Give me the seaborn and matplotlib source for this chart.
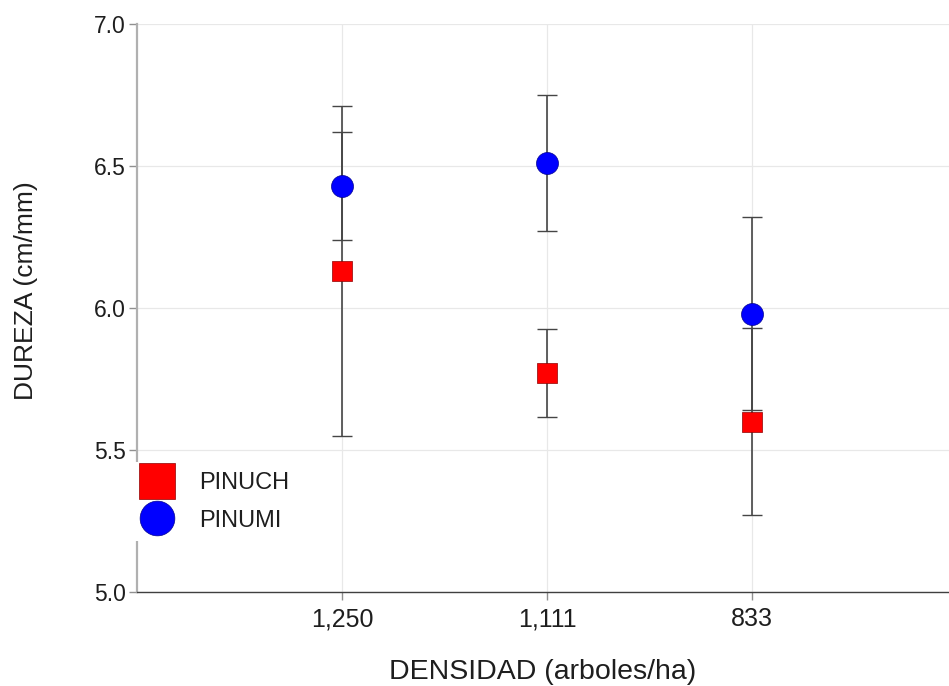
import matplotlib
matplotlib.use("Agg")
import matplotlib.pyplot as plt
from matplotlib.lines import Line2D
import seaborn as sns
import pandas as pd

densidad = ["1,250", "1,111", "833"]
pinuch_mean = [6.13, 5.77, 5.60]
pinuch_err = [0.58, 0.155, 0.33]
pinumi_mean = [6.43, 6.51, 5.98]
pinumi_err = [0.19, 0.24, 0.34]
series = ["PINUCH", "PINUMI"]
y_ticks = [5.0, 5.5, 6.0, 6.5, 7.0]

df = pd.DataFrame({
    "densidad": densidad * 2,
    "dureza": pinuch_mean + pinumi_mean,
    "err": pinuch_err + pinumi_err,
    "serie": [series[0]] * 3 + [series[1]] * 3,
})

sns.set_theme(style="white")
plt.rcParams["font.family"] = ["Liberation Sans", "DejaVu Sans"]

fig = plt.figure(figsize=(9.49, 6.86), dpi=100)
ax = fig.add_axes([137 / 949, 1 - 592 / 686, 1 - 137 / 949, (592 - 24) / 686])

x_pos = {d: i for i, d in enumerate(densidad)}
df["x"] = df["densidad"].map(x_pos)

# error bars
for s in series:
    sub = df[df["serie"] == s]
    ax.errorbar(sub["x"], sub["dureza"], yerr=sub["err"], fmt="none",
                ecolor="#454545", elinewidth=1.2, capsize=7, capthick=1.0, zorder=2)

colors = {"PINUCH": "#ff0000", "PINUMI": "#0000ff"}
markers = {"PINUCH": "s", "PINUMI": "o"}
sizes = {"PINUCH": 210, "PINUMI": 250}
for s in series:
    sub = df[df["serie"] == s]
    sns.scatterplot(data=sub, x="x", y="dureza", color=colors[s], marker=markers[s],
                    s=sizes[s], edgecolor="#900000" if s == "PINUCH" else "#000090",
                    linewidth=0.5, ax=ax, zorder=3, legend=False)

ax.set_xlim(-1.0, 2.96)
ax.set_ylim(5.0, 7.0)
ax.set_xticks(range(len(densidad)))
ax.set_xticklabels(densidad)
ax.set_yticks(y_ticks)
ax.set_yticklabels([f"{t:.1f}" for t in y_ticks])

ax.grid(True, color="#e8e8e8", linewidth=0.9)
ax.set_axisbelow(True)
for sp in ["top", "right"]:
    ax.spines[sp].set_visible(False)
ax.spines["left"].set_color("#b0b0b0")
ax.spines["left"].set_linewidth(1.6)
ax.spines["bottom"].set_color("#404040")
ax.spines["bottom"].set_linewidth(1.0)

ax.tick_params(axis="both", which="major", length=6, width=1, color="#909090",
               labelcolor="#1e1e1e", bottom=True, left=True)
ax.tick_params(axis="y", labelsize=16.5, pad=2)
ax.tick_params(axis="x", labelsize=18, pad=5)

ax.set_xlabel("DENSIDAD (arboles/ha)", fontsize=20.5, color="#1e1e1e", labelpad=20)
ax.set_ylabel("DUREZA (cm/mm)", fontsize=19, color="#1e1e1e")
ax.yaxis.set_label_coords(-0.122, 0.53)

handles = [
    Line2D([], [], linestyle="none", marker="s", markersize=26, markerfacecolor="#ff0000",
           markeredgecolor="#900000", markeredgewidth=0.5),
    Line2D([], [], linestyle="none", marker="o", markersize=25, markerfacecolor="#0000ff",
           markeredgecolor="#000090", markeredgewidth=0.5),
]
leg = ax.legend(handles, series, loc="upper left", bbox_to_anchor=(-0.008, 0.228),
                frameon=True, fontsize=17, borderaxespad=0, borderpad=0.4,
                handletextpad=1.06, labelspacing=0.66, handlelength=1.45)
leg.get_frame().set_facecolor("white")
leg.get_frame().set_edgecolor("none")
leg.get_frame().set_alpha(1)
for t in leg.get_texts():
    t.set_color("#1e1e1e")

fig.savefig("out.png", dpi=100)
